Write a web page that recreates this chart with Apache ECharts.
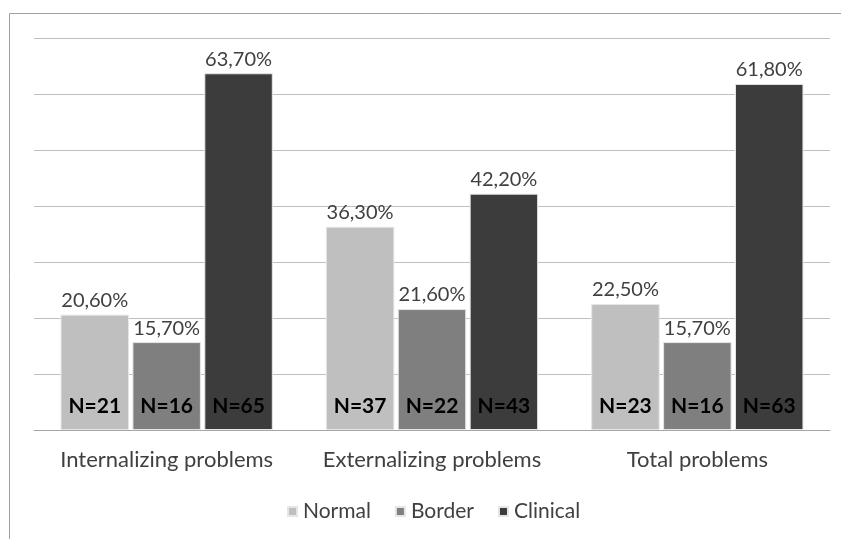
<!DOCTYPE html>
<html>
<head>
<meta charset="utf-8">
<script src="https://cdn.jsdelivr.net/npm/echarts@6/dist/echarts.min.js"></script>
<style>
  html, body { margin: 0; padding: 0; background: #fff; }
  #chart { width: 841px; height: 539px; }
</style>
</head>
<body>
<div id="chart"></div>
<script>
const categories = ['Internalizing problems', 'Externalizing problems', 'Total problems'];
const seriesNames = ['Normal', 'Border', 'Clinical'];
const normalPct = [20.6, 36.3, 22.5];
const borderPct = [15.7, 21.6, 15.7];
const clinicalPct = [63.7, 42.2, 61.8];
const normalN = [21, 37, 23];
const borderN = [16, 22, 16];
const clinicalN = [65, 43, 63];

const colors = ['#bfbfbf', '#7f7f7f', '#3c3c3c'];
const pctData = [normalPct, borderPct, clinicalPct];
const nData = [normalN, borderN, clinicalN];
const font = 'Lato, "Open Sans", sans-serif';

const chart = echarts.init(document.getElementById('chart'));

const fmtPct = v => v.toFixed(2).replace('.', ',') + '%';

const barSeries = seriesNames.map((name, i) => ({
  name: name,
  type: 'bar',
  xAxisIndex: 0,
  data: pctData[i],
  barGap: '5%',
  barCategoryGap: '20%',
  itemStyle: { color: colors[i], borderColor: '#e6e6e6', borderWidth: 1 },
  label: {
    show: true,
    position: 'top',
    distance: 4,
    fontFamily: font,
    fontSize: 20,
    color: '#404040',
    formatter: p => fmtPct(p.value)
  },
  emphasis: { disabled: true }
}));

// invisible overlay carrying the N labels
const nSeries = seriesNames.map((name, i) => ({
  name: name + ' N',
  type: 'bar',
  xAxisIndex: 1,
  silent: true,
  data: pctData[i],
  barGap: '5%',
  barCategoryGap: '20%',
  itemStyle: { color: 'rgba(0,0,0,0)' },
  label: {
    show: true,
    position: 'insideBottom',
    distance: 13,
    fontFamily: font,
    fontSize: 21,
    fontWeight: 'bold',
    color: '#000',
    formatter: p => 'N=' + nData[i][p.dataIndex]
  },
  emphasis: { disabled: true }
}));

chart.setOption({
  animation: false,
  backgroundColor: '#fff',
  grid: { left: 34, right: 11, top: 38, bottom: 109 },
  legend: {
    data: seriesNames,
    top: 496,
    left: 282,
    itemWidth: 9,
    itemHeight: 9,
    itemGap: 24,
    icon: 'rect',
    textStyle: { fontFamily: font, fontSize: 21, color: '#404040', padding: [0, 0, 0, 1] }
  },
  xAxis: [
    {
      type: 'category',
      data: categories,
      axisTick: { show: false },
      axisLine: { lineStyle: { color: '#a6a6a6' } },
      axisLabel: { interval: 0, fontFamily: font, fontSize: 22, color: '#404040', margin: 19 }
    },
    {
      type: 'category',
      data: categories,
      show: false
    }
  ],
  yAxis: {
    type: 'value',
    min: 0,
    max: 70,
    interval: 10,
    axisLabel: { show: false },
    axisLine: { show: false },
    axisTick: { show: false },
    splitLine: { lineStyle: { color: '#bfbfbf' } }
  },
  graphic: [
    { type: 'line', shape: { x1: 9.5, y1: 13.5, x2: 841, y2: 13.5 }, style: { stroke: '#a0a0a0', lineWidth: 1 } },
    { type: 'line', shape: { x1: 9.5, y1: 13.5, x2: 9.5, y2: 539 }, style: { stroke: '#a0a0a0', lineWidth: 1 } }
  ],
  series: barSeries.concat(nSeries)
});
</script>
</body>
</html>
